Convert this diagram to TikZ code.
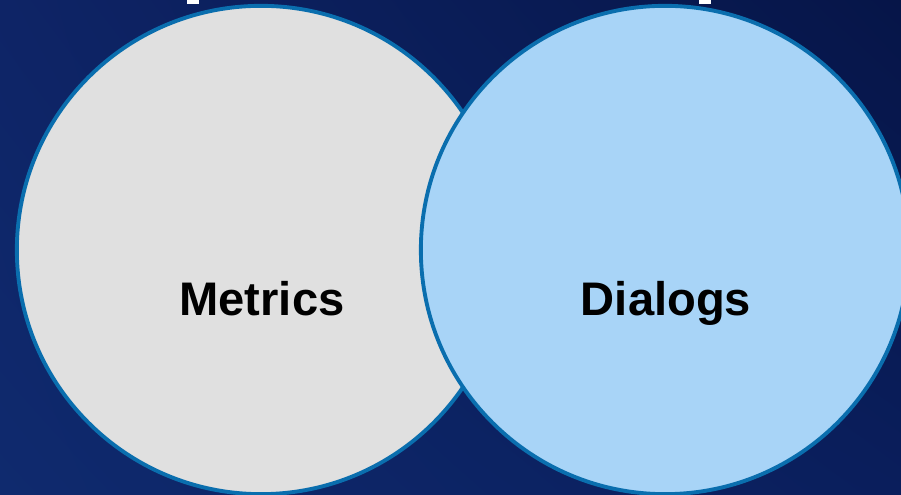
\documentclass[tikz,border=0pt]{standalone}
\usepackage{fontspec}
\setmainfont{Liberation Sans}
\usetikzlibrary{shadings}

\definecolor{navyTL}{HTML}{0E2466}
\definecolor{navyTR}{HTML}{061548}
\definecolor{navyBL}{HTML}{0F2A6E}
\definecolor{navyBR}{HTML}{0A1E5C}
\definecolor{ringblue}{HTML}{0A6EAE}
\definecolor{metricgray}{HTML}{E0E0E0}
\definecolor{dialogblue}{HTML}{A8D4F7}

\begin{document}
\begin{tikzpicture}[
    x=0.01cm, y=0.01cm,
    set/.style={circle, draw=ringblue, line width=1.1pt, minimum size=4.88cm, inner sep=0pt},
    setlabel/.style={anchor=base, font=\fontsize{13.4}{16}\selectfont\bfseries, text=black}
]

% Background
\useasboundingbox (0,0) rectangle (901,495);
\shade[upper left=navyTL, upper right=navyTR, lower left=navyBL, lower right=navyBR]
    (0,0) rectangle (901,495);
\clip (0,0) rectangle (901,495);

% Bits of the title above
\fill[white] (187,491) rectangle (199,495);
\fill[white] (699,491) rectangle (711,495);

% The two sets
\node[set, fill=metricgray] (metrics) at (261,245) {};
\node[set, fill=dialogblue] (dialogs) at (665,245) {};

% Labels
\node[setlabel] (metricsLbl) at (262,179) {Metrics};
\node[setlabel] (dialogsLbl) at (666,179) {Dialogs};

\end{tikzpicture}
\end{document}
